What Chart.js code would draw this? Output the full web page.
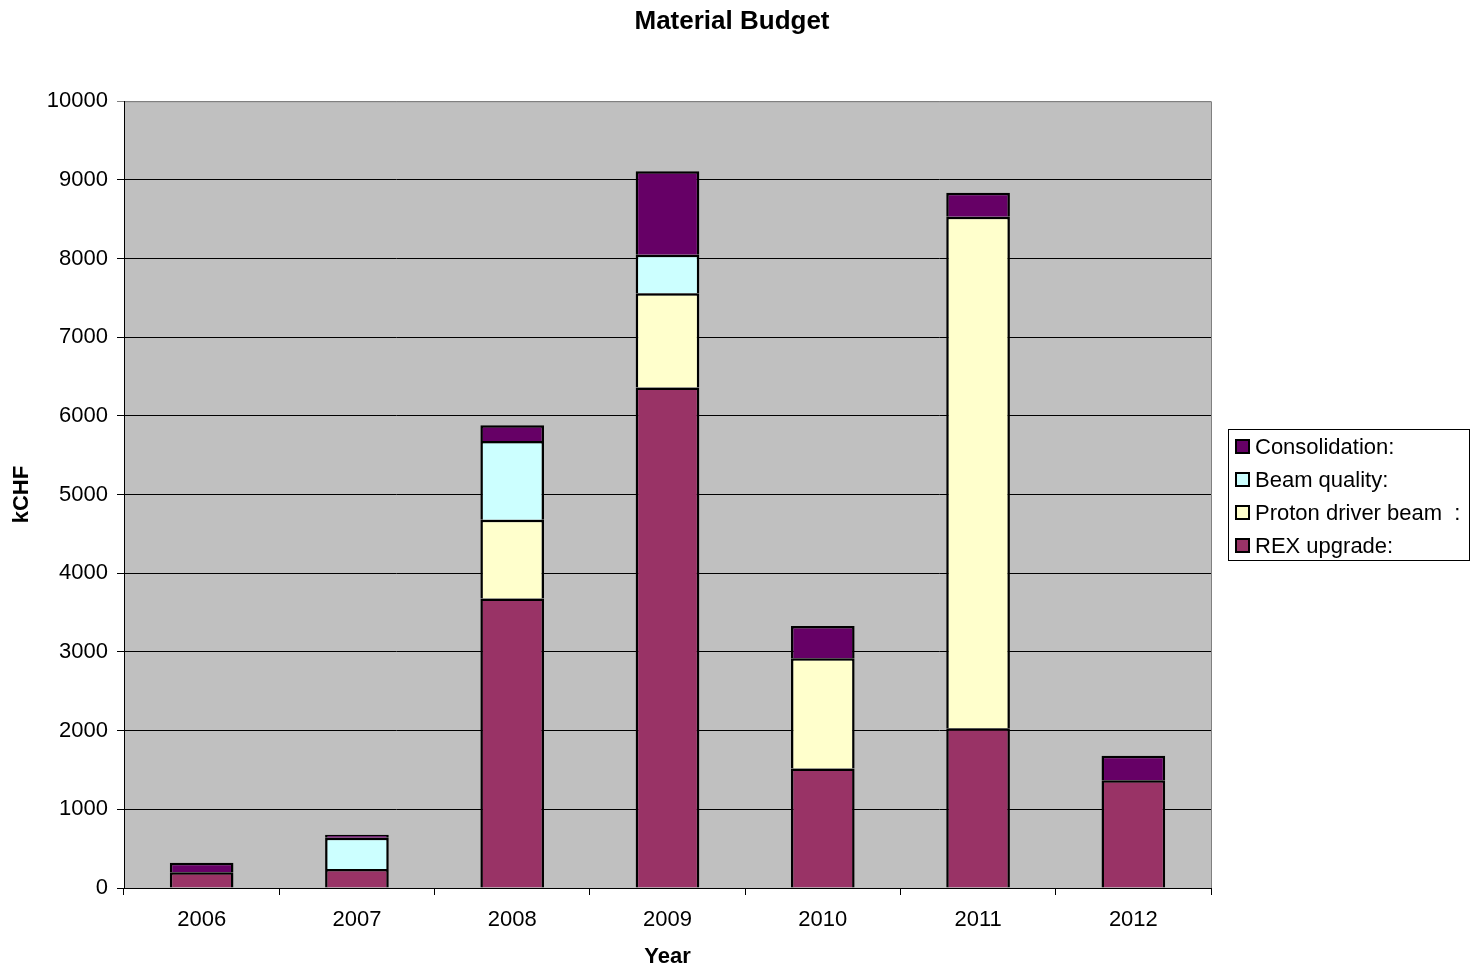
<!DOCTYPE html>
<html>
<head>
<meta charset="utf-8">
<title>Material Budget</title>
<script src="https://cdn.jsdelivr.net/npm/chart.js@4.4.1/dist/chart.umd.min.js"></script>
<style>
  html, body { margin: 0; padding: 0; background: #fff; }
  canvas { display: block; }
</style>
</head>
<body>
<canvas id="budgetChart" width="1473" height="977"></canvas>
<script>
const years = ["2006", "2007", "2008", "2009", "2010", "2011", "2012"];
const rexUpgrade = [200, 240, 3680, 6360, 1520, 2030, 1370];
const protonDriver = [0, 0, 1000, 1200, 1400, 6500, 0];
const beamQuality = [0, 400, 1000, 490, 0, 0, 0];
const consolidation = [120, 37, 200, 1060, 410, 305, 310];

const FONT = "'Liberation Sans', Arial, sans-serif";

// grey plot area with a lighter frame on top and right
const plotBackground = {
  id: "plotBackground",
  beforeDraw(chart) {
    const { ctx, chartArea: a } = chart;
    ctx.save();
    ctx.fillStyle = "#C0C0C0";
    ctx.fillRect(a.left, a.top, a.right - a.left, a.bottom - a.top);
    ctx.strokeStyle = "#808080";
    ctx.lineWidth = 1;
    ctx.beginPath();
    ctx.moveTo(a.left, a.top + 0.5);
    ctx.lineTo(a.right + 0.5, a.top + 0.5);
    ctx.lineTo(a.right + 0.5, a.bottom);
    ctx.stroke();
    ctx.restore();
  }
};

// boxed legend to the right, series listed top-down as stacked
const boxLegend = {
  id: "boxLegend",
  afterDraw(chart) {
    const { ctx, chartArea: a } = chart;
    const sets = chart.data.datasets.slice().reverse();
    const w = 241, rowH = 33, h = 131;
    const x = a.right + 17;
    const y = Math.round((a.top + a.bottom) / 2 - h / 2);
    ctx.save();
    ctx.fillStyle = "#fff";
    ctx.fillRect(x, y, w, h);
    ctx.strokeStyle = "#000";
    ctx.lineWidth = 1;
    ctx.strokeRect(x + 0.5, y + 0.5, w, h);
    ctx.font = "22px " + FONT;
    ctx.textBaseline = "middle";
    sets.forEach((ds, i) => {
      const cy = y + 18 + i * rowH;
      ctx.fillStyle = ds.backgroundColor;
      ctx.fillRect(x + 8, cy - 7, 13, 13);
      ctx.lineWidth = 2;
      ctx.strokeStyle = "#000";
      ctx.strokeRect(x + 8, cy - 7, 13, 13);
      ctx.fillStyle = "#000";
      ctx.fillText(ds.label, x + 27, cy + 1);
    });
    ctx.restore();
  }
};

function series(label, data, color) {
  return {
    label: label,
    data: data,
    backgroundColor: color,
    borderColor: "#000",
    borderWidth: 2.5,
    borderSkipped: "bottom",
    barPercentage: 0.41,
    categoryPercentage: 1.0
  };
}

new Chart(document.getElementById("budgetChart"), {
  type: "bar",
  data: {
    labels: years,
    datasets: [
      series("REX upgrade:", rexUpgrade, "#993366"),
      series("Proton driver beam  :", protonDriver, "#FFFFCC"),
      series("Beam quality:", beamQuality, "#CCFFFF"),
      series("Consolidation:", consolidation, "#660066")
    ]
  },
  options: {
    responsive: false,
    animation: false,
    layout: { padding: { left: 0, right: 9, top: 0, bottom: 0 } },
    plugins: {
      legend: { display: false },
      tooltip: { enabled: false },
      title: {
        display: true,
        text: "Material Budget",
        color: "#000",
        font: { family: FONT, size: 26, weight: "bold" },
        padding: { top: 6, bottom: 64 }
      }
    },
    scales: {
      x: {
        stacked: true,
        afterFit(scale) { scale.height = 89; },
        grid: { drawOnChartArea: false, offset: true, tickLength: 7, color: "#000" },
        border: { color: "#000", width: 1 },
        ticks: { color: "#000", padding: 12, font: { family: FONT, size: 22 } },
        title: {
          display: true,
          text: "Year",
          color: "#000",
          font: { family: FONT, size: 22, weight: "bold" },
          padding: { top: 0, bottom: 7 }
        }
      },
      y: {
        stacked: true,
        min: 0,
        max: 10000,
        afterFit(scale) { scale.width = 124; },
        grid: {
          tickLength: 7,
          color: (c) => (c.tick && c.tick.value === 10000 ? "#808080" : "#000")
        },
        border: { color: "#000", width: 1 },
        ticks: {
          stepSize: 1000,
          color: "#000",
          padding: 9,
          font: { family: FONT, size: 22 },
          callback: (v) => String(v)
        },
        title: {
          display: true,
          text: "kCHF",
          color: "#000",
          font: { family: FONT, size: 22, weight: "bold" },
          padding: { top: 9, bottom: 0 }
        }
      },
      legendSpace: {
        type: "linear",
        position: "right",
        afterFit(scale) { scale.width = 253; },
        grid: { display: false },
        border: { display: false },
        ticks: { display: false }
      }
    }
  },
  plugins: [plotBackground, boxLegend]
});
</script>
</body>
</html>
